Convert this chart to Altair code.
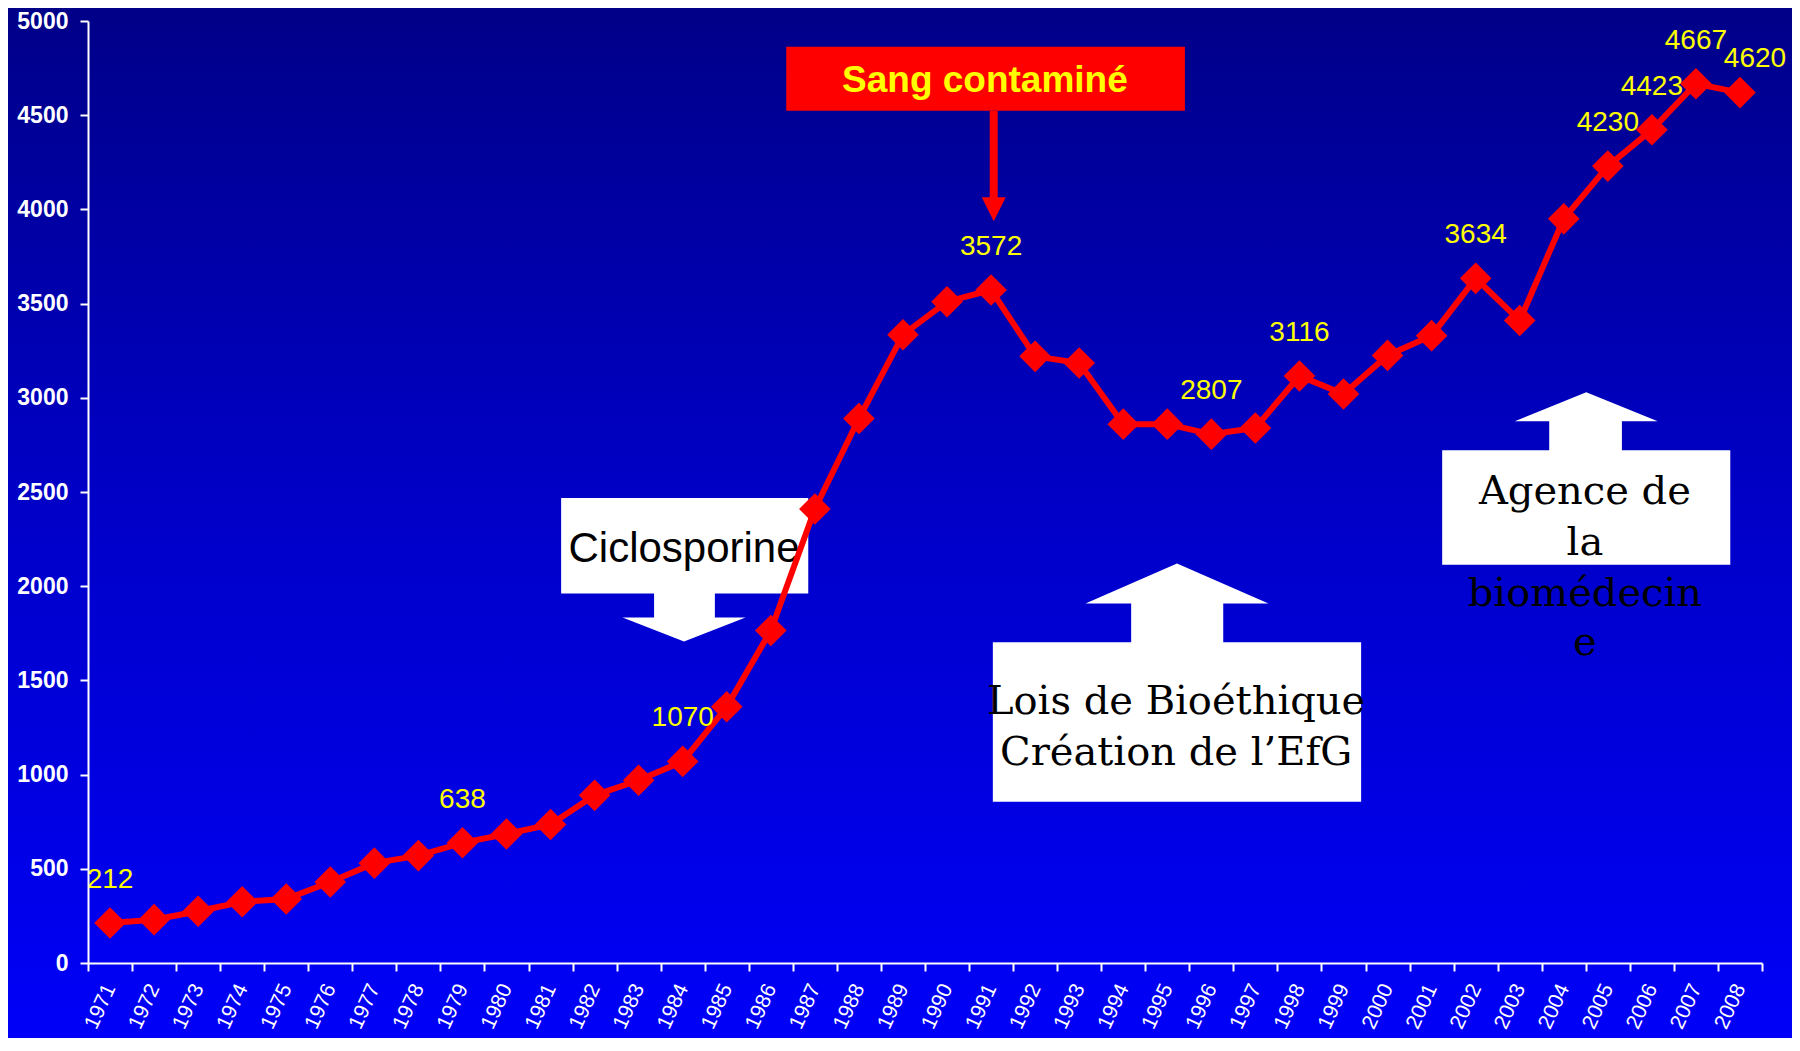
import altair as alt
import pandas as pd

# ---------------- data ----------------
years = list(range(1971, 2009))
values = [212, 230, 275, 325, 340, 430, 530, 570, 638, 685, 735, 890, 970, 1070,
          1360, 1765, 2410, 2890, 3335, 3510, 3572, 3220, 3185, 2860, 2860, 2807,
          2840, 3116, 3020, 3225, 3330, 3634, 3410, 3950, 4230, 4423, 4667, 4620]
labelled_years = [1971, 1979, 1984, 1991, 1996, 1998, 2002, 2005, 2006, 2007]
shifted_label_years = [2008]
y_ticks = list(range(0, 5001, 500))

# annotation texts
sang_text = "Sang contaminé"
cyclo_text = "Ciclosporine"
lois_lines = ["Lois de Bioéthique", "Création de l\u2019EfG"]
agence_lines = ["Agence de", "la", "biomédecin", "e"]

df = pd.DataFrame({"year": years, "value": values})
df_lab = df[df["year"].isin(labelled_years)]
df_lab2 = df[df["year"].isin(shifted_label_years)]

# ---------------- scales ----------------
XB = alt.Scale(type="band", domain=years, paddingInner=0, paddingOuter=0)
XQ = alt.Scale(domain=[1970.5, 2008.5], nice=False, zero=False)
YS = alt.Scale(domain=[0, 5000], nice=False, zero=True)

W, H = 1674, 942
PAD = {"left": 80, "top": 13, "right": 30, "bottom": 75}

grad = alt.LinearGradient(
    gradient="linear",
    stops=[alt.GradientStop(color="#000088", offset=0),
           alt.GradientStop(color="#0000C4", offset=0.45),
           alt.GradientStop(color="#0000F8", offset=1)],
    x1=0, x2=0, y1=0, y2=1)

bg = alt.Chart(pd.DataFrame({"k": [0]})).mark_rect(fill=grad, strokeWidth=0).encode(
    x=alt.value(-PAD["left"]), x2=alt.value(W + PAD["right"]),
    y=alt.value(-PAD["top"]), y2=alt.value(H + PAD["bottom"]))


def rect(x1, x2, y1, y2, color):
    d = pd.DataFrame({"x": [x1], "x2": [x2], "y": [y1], "y2": [y2]})
    return alt.Chart(d).mark_rect(color=color, strokeWidth=0, opacity=1).encode(
        x=alt.X("x:Q", scale=XQ, axis=None), x2="x2:Q",
        y=alt.Y("y:Q", scale=YS, axis=None), y2="y2:Q")


def head(x, y, path, size, color):
    d = pd.DataFrame({"x": [x], "y": [y]})
    return alt.Chart(d).mark_point(shape=path, size=size, filled=True, opacity=1,
                                   color=color, strokeWidth=0).encode(
        x=alt.X("x:Q", scale=XQ, axis=None), y=alt.Y("y:Q", scale=YS, axis=None))


def texts(xs, ys, labels, color, font, size, weight="normal"):
    d = pd.DataFrame({"x": xs, "y": ys, "t": labels})
    return alt.Chart(d).mark_text(color=color, font=font, fontSize=size, fontWeight=weight,
                                  align="center", baseline="alphabetic").encode(
        x=alt.X("x:Q", scale=XQ, axis=None), y=alt.Y("y:Q", scale=YS, axis=None), text="t:N")


RED = "#FF0000"
WHITE = "#FFFFFF"

# Sang contaminé
sang_box = rect(1986.35, 1995.40, 4524, 4863, RED)
sang_stem = alt.Chart(pd.DataFrame({"x": [1991.06], "y": [4524], "y2": [4060]})).mark_rule(
    color=RED, strokeWidth=8).encode(
    x=alt.X("x:Q", scale=XQ, axis=None), y=alt.Y("y:Q", scale=YS, axis=None), y2="y2:Q")
sang_head = head(1991.06, 4064, "M-1,0L1,0L0,2Z", 576, RED)
sang_txt = texts([1990.86], [4625], [sang_text], "#FFFF00", "Liberation Sans", 37, "bold")

# Ciclosporine
cyc_box = rect(1981.24, 1986.85, 1961, 2468, WHITE)
cyc_stem = rect(1983.35, 1984.73, 1830, 1965, WHITE)
cyc_head = head(1984.03, 1834, "M-1,0L1,0L0,0.39Z", 15129, WHITE)
cyc_txt = texts([1984.03], [2130], [cyclo_text], "#000000", "Liberation Sans", 42)

# Lois de Bioéthique
lois_box = rect(1991.04, 1999.40, 856, 1702, WHITE)
lois_stem = rect(1994.18, 1996.27, 1698, 1912, WHITE)
lois_head = head(1995.22, 1908, "M-1,0L1,0L0,-0.437Z", 33489, WHITE)
lois_txt = texts([1995.2, 1995.2], [1321, 1052], lois_lines, "#000000", "DejaVu Serif", 40)

# Agence de la biomédecine
ag_box = rect(2001.24, 2007.78, 2114, 2722, WHITE)
ag_stem = rect(2003.67, 2005.32, 2718, 2879, WHITE)
ag_head = head(2004.51, 2875, "M-1,0L1,0L0,-0.406Z", 20449, WHITE)
ag_txt = texts([2004.48] * 4, [2437, 2167, 1897, 1633], agence_lines, "#000000", "DejaVu Serif", 40)

# ---------------- main series ----------------
x_axis = alt.Axis(title=None, tickBand="extent", labelAngle=-65, labelAlign="right",
                  labelBaseline="middle", labelFont="Liberation Sans", labelFontSize=21,
                  labelColor="white", labelPadding=14, labelOverlap=False,
                  tickSize=8, tickWidth=2, tickColor="white",
                  domainColor="white", domainWidth=2, grid=False, zindex=1)
y_axis = alt.Axis(title=None, values=y_ticks, format="d", labelFont="Liberation Sans",
                  labelFontSize=23, labelFontWeight="bold", labelColor="white", labelPadding=12,
                  tickSize=8, tickWidth=2, tickColor="white",
                  domainColor="white", domainWidth=2, grid=False, zindex=1)

line = alt.Chart(df).mark_line(
    color=RED, strokeWidth=6,
    point=alt.OverlayMarkDef(shape="diamond", size=1000, filled=True, color=RED, opacity=1)
).encode(
    x=alt.X("year:O", scale=XB, bandPosition=0.5, axis=x_axis),
    y=alt.Y("value:Q", scale=YS, axis=y_axis))

labels = alt.Chart(df_lab).mark_text(
    color="#FFFF00", font="Liberation Sans", fontSize=28, dy=-43, baseline="middle"
).encode(
    x=alt.X("year:O", scale=XB, bandPosition=0.5, axis=None),
    y=alt.Y("value:Q", scale=YS, axis=None),
    text=alt.Text("value:Q", format="d"))

labels2 = alt.Chart(df_lab2).mark_text(
    color="#FFFF00", font="Liberation Sans", fontSize=28, dy=-34, dx=15, baseline="middle"
).encode(
    x=alt.X("year:O", scale=XB, bandPosition=0.5, axis=None),
    y=alt.Y("value:Q", scale=YS, axis=None),
    text=alt.Text("value:Q", format="d"))

chart = alt.layer(
    bg,
    sang_box, sang_stem, sang_head, sang_txt,
    cyc_box, cyc_stem, cyc_head, cyc_txt,
    lois_box, lois_stem, lois_head, lois_txt,
    ag_box, ag_stem, ag_head, ag_txt,
    line, labels, labels2,
).resolve_scale(x="independent", y="independent").properties(
    width=W, height=H,
    autosize=alt.AutoSizeParams(type="none"),
    padding=PAD,
    background="#0000C0",
).configure_view(stroke=None)

chart.save("out.html", embed_options={"renderer": "svg", "actions": False})
